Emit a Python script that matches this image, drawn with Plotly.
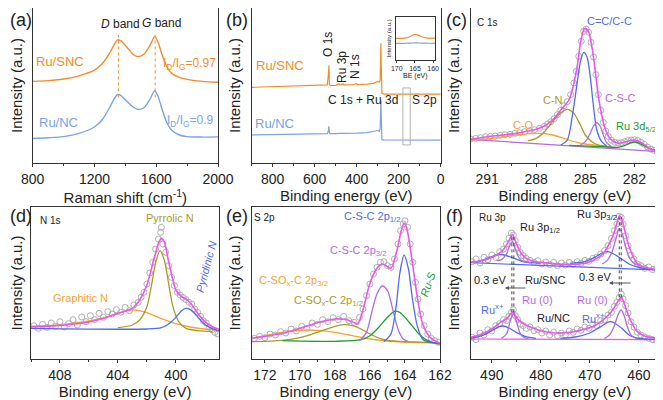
import plotly.graph_objects as go

# page body has an 8px margin: figure is sized/offset to compensate
OFF = 8
W, H = 663 - OFF, 400 - OFF
ORANGE = "#F28C28"
LBLUE = "#7BA3E6"
C_OR = "#F5A431"
C_BL = "#4F6BEA"
C_OL = "#A89B1F"
C_PU = "#B36AE2"
C_MG = "#EE55EE"
C_GR = "#1E9E2E"
C_GY = "#A6A6A6"
TXT = "#222222"
FONT = "Arial, Liberation Sans, sans-serif"

# ---------------- (a) Raman ----------------
a_x = [800, 900, 1000, 1100, 1200, 1250, 1300, 1330, 1350, 1370, 1400, 1450, 1480, 1520,
       1560, 1590, 1610, 1640, 1670, 1700, 1750, 1800, 1900, 2000]
a_snc = [51, 51.5, 52.5, 54.5, 58, 62, 69, 74.5, 77, 76.5, 73.5, 68, 66.5, 68,
         73.5, 79, 76, 67, 60, 56, 53.5, 52.3, 51, 50.5]
a_nc = [15.4, 15.8, 16.5, 18.5, 22.5, 27, 35, 40.5, 42.8, 42.3, 39.5, 35, 33.5, 34.5,
        40, 45.2, 42, 33, 25, 20.5, 17.5, 16.5, 16.2, 16.3]
a_dg_pos = [1355, 1593]

# ---------------- (b) XPS survey ----------------
b_x = [900, 850, 800, 750, 700, 650, 600, 560, 540, 535, 532, 530, 525, 500, 485, 480,
       465, 460, 420, 400, 397, 350, 320, 300, 292, 288, 285, 283, 280, 270, 200, 170,
       165, 160, 100, 50, 0]
b_snc = [47.3, 47.5, 47.6, 47.8, 47.9, 48.1, 48.3, 48.5, 48.8, 55, 61, 49, 48.4, 48.5, 49.5, 48.8,
         49.4, 48.8, 48.9, 49.6, 49, 49.3, 49.8, 51, 50.5, 52, 74.8, 60, 43.5, 43, 43.1, 43.1,
         43.3, 43.1, 43, 43, 43]
b_nc = [17.5, 17.55, 17.6, 17.7, 17.8, 17.9, 18, 18.2, 18.3, 20, 23, 18.5, 18.3, 18.3, 18.6, 18.5,
        18.5, 18.5, 18.6, 18.7, 18.7, 19, 19.6, 20.3, 19.8, 22, 39.4, 28, 14.6, 14.4, 14.4, 14.4,
        14.4, 14.4, 14.3, 14.3, 14.3]
b_box_x = [180, 145]
b_box_y = [11.3, 46.9]
ins_x = [170.3, 168, 167, 166, 165, 164, 163, 162, 160, 159.5]
ins_snc = [50, 50.5, 52, 56, 59, 57, 53, 51, 50.5, 50.5]
ins_nc = [38.5, 38.6, 38.8, 39.2, 39.5, 39.3, 39, 38.8, 38.6, 38.5]

# ---------------- (c) C 1s ----------------
c_env_x = [292, 291, 290, 289, 288, 287.5, 287, 286.5, 286, 285.7, 285.5, 285.3, 285.1, 285,
           284.8, 284.6, 284.4, 284.2, 284, 283.8, 283.5, 283, 282.5, 282, 281.5, 281, 280.5]
c_env_y = [71, 79, 84, 91, 101, 111, 129, 159, 189, 239, 289, 359, 399, 404,
           394, 349, 279, 199, 144, 104, 74, 59, 64, 69, 59, 41, 34]
c_cc_x = [286.5, 286.1, 285.8, 285.5, 285.3, 285.1, 284.9, 284.7, 284.5, 284.3, 284, 283.7]
c_cc_y = [54, 69, 139, 239, 304, 332, 319, 259, 169, 99, 64, 52]
c_cn_x = [288.5, 288, 287.5, 287, 286.5, 286.1, 285.7, 285.3, 285, 284.6, 284.2, 283.7]
c_cn_y = [67, 74, 94, 124, 151, 161, 149, 114, 84, 64, 54, 51]
c_co_x = [292, 291, 290, 289, 288, 287.5, 287, 286.5, 286, 285.5, 285, 284, 283.5]
c_co_y = [69, 72, 79, 85, 89, 88, 84, 77, 69, 62, 57, 52, 49]
c_csc_x = [285.3, 285, 284.7, 284.5, 284.3, 284.1, 283.9, 283.7, 283.4]
c_csc_y = [54, 64, 89, 111, 121, 111, 84, 61, 49]
c_ru_x = [286, 284, 283, 282.6, 282.3, 282, 281.7, 281.3, 281, 280.5]
c_ru_y = [53, 49, 47, 52, 59, 63, 59, 49, 42, 37]
c_bg_x = [292, 280.5]
c_bg_y = [71, 34]
c_pts_x = [292, 291.7, 291.4, 291.1, 290.8, 290.5, 290.2, 289.9, 289.6, 289.3, 289, 288.7, 288.4,
           288.1, 287.8, 287.5, 287.3, 287.1, 286.9, 286.7, 286.5, 286.3, 286.1, 285.9, 285.7,
           285.55, 285.4, 285.25, 285.1, 284.95, 284.8, 284.65, 284.5, 284.35, 284.2, 284.05,
           283.9, 283.75, 283.6, 283.4, 283.2, 283, 282.8, 282.6, 282.4, 282.2, 282, 281.8,
           281.6, 281.4, 281.2, 281, 280.8, 280.6]
c_pts_y = [72, 74, 76, 79, 80, 81, 83, 85, 86, 89, 91, 94, 97,
           100, 104, 110, 117, 124, 133, 145, 158, 172, 184, 205, 240,
           275, 320, 365, 395, 402, 392, 362, 318, 265, 205, 158,
           122, 96, 80, 68, 62, 60, 61, 64, 67, 69, 70, 68,
           62, 56, 48, 42, 38, 35]

# ---------------- (d) N 1s ----------------
d_env_x = [410, 408, 406, 405, 404, 403, 402.5, 402, 401.5, 401.2, 401, 400.8, 400.5, 400.2,
           400, 399.6, 399.2, 398.8, 398.4, 398, 397.5, 397]
d_env_y = [97, 101, 111, 122, 137, 152, 177, 222, 302, 347, 362, 352, 292, 237,
           207, 187, 177, 157, 132, 112, 97, 89]
d_pyr_x = [404, 403, 402.5, 402, 401.7, 401.4, 401.1, 400.8, 400.5, 400.2, 399.8, 399.3, 398.5, 397.5]
d_pyr_y = [94, 102, 117, 157, 217, 287, 325, 297, 227, 157, 112, 92, 85, 82]
d_gra_x = [410, 408, 406, 405, 404, 403.3, 402.8, 402, 401, 400, 399, 398, 397]
d_gra_y = [97, 102, 114, 123, 136, 146, 147, 139, 121, 106, 96, 90, 86]
d_pyd_x = [410, 402, 401, 400.5, 400, 399.6, 399.3, 399, 398.6, 398.2, 397.8, 397.3, 397]
d_pyd_y = [92, 90, 94, 105, 125, 145, 152, 148, 132, 112, 98, 88, 85]
d_pts_x = [409.8, 409.5, 409.2, 408.9, 408.6, 408.3, 408, 407.7, 407.4, 407.1, 406.8, 406.5,
           406.2, 405.9, 405.6, 405.3, 405, 404.7, 404.4, 404.1, 403.8, 403.5, 403.2, 402.9,
           402.6, 402.4, 402.2, 402, 401.8, 401.6, 401.4, 401.2, 401.05, 401.0, 400.9, 400.7,
           400.5, 400.3, 400.1, 399.9, 399.7, 399.5, 399.3, 399.1, 398.9, 398.7, 398.5, 398.3,
           398.1, 397.9, 397.7, 397.5, 397.3, 397.1]
d_pts_y = [100, 92, 104, 95, 108, 98, 112, 96, 106, 118, 102, 126,
           112, 130, 118, 137, 125, 142, 135, 148, 140, 155, 145, 162,
           170, 185, 200, 225, 258, 290, 330, 360, 380, 395, 345, 320,
           280, 245, 220, 200, 192, 185, 178, 170, 165, 150, 140, 128,
           115, 108, 95, 88, 80, 75]

# ---------------- (e) S 2p ----------------
e_env_x = [172.75, 171, 170, 169, 168, 167.5, 167, 166.7, 166.4, 166, 165.6, 165.3, 165,
           164.8, 164.5, 164.2, 164.05, 163.9, 163.6, 163.3, 163, 162.6, 162.2, 161.9]
e_env_y = [62, 77, 92, 109, 120, 119, 112, 105, 147, 227, 272, 285, 277,
           272, 317, 387, 407, 392, 297, 187, 107, 67, 52, 47]
e_b12_x = [165.2, 164.8, 164.5, 164.3, 164.05, 163.8, 163.6, 163.3, 163, 162.6, 162]
e_b12_y = [52, 75, 160, 255, 312, 270, 190, 100, 60, 50, 47]
e_p32_x = [166.6, 166.2, 165.9, 165.6, 165.3, 165, 164.7, 164.4, 164.1, 163.8]
e_p32_y = [55, 80, 140, 195, 219, 205, 150, 90, 60, 52]
e_rus_x = [171, 168, 166.5, 166, 165.5, 165, 164.6, 164.3, 164, 163.6, 163.2, 162.8, 162.4, 162]
e_rus_y = [55, 53, 58, 70, 95, 125, 143, 140, 125, 100, 75, 58, 49, 45]
e_so12_x = [172.75, 171, 170, 169, 168, 167.5, 167, 166.5, 166, 165.5, 165, 164, 162]
e_so12_y = [52, 56, 64, 80, 98, 103, 100, 90, 75, 63, 56, 52, 49]
e_so32_x = [172.75, 172, 171, 170, 169.5, 169, 168, 167, 166, 165, 164, 162]
e_so32_y = [62, 70, 80, 86, 87, 86, 80, 70, 60, 54, 51, 48]
e_pts_x = [172.6, 172.3, 172, 171.7, 171.4, 171.1, 170.8, 170.5, 170.2, 169.9, 169.6, 169.3,
           169, 168.7, 168.4, 168.1, 167.8, 167.5, 167.2, 166.9, 166.6, 166.4, 166.2, 166,
           165.8, 165.6, 165.4, 165.2, 165, 164.8, 164.6, 164.4, 164.25, 164.1, 164, 163.85,
           163.7, 163.55, 163.4, 163.25, 163.1, 162.9, 162.7, 162.5, 162.3, 162.1]
e_pts_y = [62, 68, 64, 75, 72, 82, 78, 90, 84, 98, 92, 108,
           104, 118, 112, 124, 118, 128, 115, 110, 125, 150, 190, 225,
           255, 275, 290, 292, 280, 275, 300, 345, 385, 405, 415, 395,
           345, 290, 230, 180, 135, 100, 75, 62, 55, 50]

# ---------------- (f) Ru 3p ----------------
f_u_env_x = [494.3, 492, 490, 488, 487, 486, 485.8, 485, 484, 483, 481, 478, 475, 472, 470,
             468, 467, 466, 465, 464.3, 463.9, 463.5, 463, 462, 461, 460, 458, 456]
f_u_env_y = [290, 295, 305, 322, 342, 369, 374, 347, 317, 302, 292, 287, 284, 285, 292,
             307, 322, 347, 382, 417, 429, 422, 392, 337, 302, 282, 272, 267]
f_u_p1_x = [489, 488, 487, 486.5, 485.8, 485.2, 484.5, 483.5, 482]
f_u_p1_y = [295, 298, 315, 335, 352, 330, 305, 292, 290]
f_u_p2_x = [467.5, 466.5, 465.5, 464.7, 464, 463.4, 462.6, 461.8, 461, 459.5]
f_u_p2_y = [285, 295, 320, 360, 392, 375, 330, 300, 287, 280]
f_u_b1_x = [494.3, 492, 490, 488.5, 487.5, 486, 484, 482, 480]
f_u_b1_y = [290, 296, 307, 313, 312, 305, 294, 289, 288]
f_u_b2_x = [474, 471, 469, 467.5, 466.5, 465.5, 464, 462, 460, 458, 456]
f_u_b2_y = [287, 292, 305, 318, 322, 318, 305, 285, 275, 270, 268]
f_u_bg_x = [494.3, 456]
f_u_bg_y = [289, 267]
f_l_env_x = [494.3, 492, 490, 488, 487, 486.2, 485.6, 485, 484, 482, 480, 477, 474, 471, 469,
             467.5, 466, 465, 464.2, 463.7, 463.2, 462.5, 461.5, 460.5, 459, 456]
f_l_env_y = [65, 75, 90, 112, 120, 135, 141, 125, 110, 95, 85, 78, 80, 90, 100,
             115, 135, 155, 175, 184, 175, 145, 110, 85, 70, 62]
f_l_p1_x = [488, 487, 486.3, 485.6, 485, 484.3, 483.5, 482.5]
f_l_p1_y = [62, 75, 110, 137, 115, 80, 65, 61]
f_l_p2_x = [467, 466, 465, 464.2, 463.6, 463, 462.3, 461.5, 460.5]
f_l_p2_y = [62, 72, 100, 135, 147, 130, 95, 70, 62]
f_l_b1_x = [494.3, 492, 490, 488.5, 487.7, 486.5, 485, 483, 481]
f_l_b1_y = [62, 70, 85, 97, 99, 93, 80, 67, 62]
f_l_b2_x = [476, 473, 470, 468, 466.5, 465.8, 465, 463.5, 462, 460.5, 459, 456]
f_l_b2_y = [62, 66, 78, 95, 109, 112, 108, 92, 72, 63, 60, 60]
f_l_bg_x = [494.3, 456]
f_l_bg_y = [60, 58]
f_pts_x = [494, 493.2, 492.4, 491.6, 490.8, 490, 489.2, 488.4, 487.6, 487, 486.5, 486, 485.6,
           485.2, 484.7, 484.2, 483.6, 483, 482.2, 481.4, 480.6, 479.8, 479, 478.2, 477.4,
           476.6, 475.8, 475, 474.2, 473.4, 472.6, 471.8, 471, 470.2, 469.4, 468.6, 467.8,
           467, 466.3, 465.6, 465, 464.5, 464, 463.6, 463.2, 462.7, 462.2, 461.6, 461, 460.3,
           459.6, 458.8, 458, 457.2, 456.4]
f_u_pts_y = [292, 300, 288, 305, 298, 312, 305, 322, 330, 345, 362, 378, 372,
             355, 335, 320, 310, 302, 296, 290, 295, 285, 291, 283, 290,
             280, 288, 282, 290, 284, 292, 287, 296, 293, 302, 305, 315,
             325, 340, 362, 385, 405, 428, 425, 405, 370, 340, 312, 300, 285,
             280, 272, 276, 268, 272]
f_l_pts_y = [65, 58, 78, 72, 88, 84, 100, 106, 118, 115, 128, 140, 148,
             130, 118, 105, 100, 92, 96, 85, 88, 78, 84, 72, 80,
             70, 78, 72, 84, 80, 90, 86, 96, 92, 104, 100, 115,
             118, 132, 140, 158, 170, 185, 195, 180, 160, 138, 112, 96, 80,
             72, 66, 62, 58, 55]
f_shift_lines = [485.9, 485.5, 464.0, 463.6]


def dom_x(l, r):
    return [(l - OFF) / W, (r - OFF) / W]


def dom_y(t, b):
    return [1 - (b - OFF) / H, 1 - (t - OFF) / H]


def P(x, y):
    return (x - OFF) / W, 1 - (y - OFF) / H


fig = go.Figure()


def line(ax, x, y, color, width=1.3, shape="spline", dash=None):
    fig.add_trace(go.Scatter(x=x, y=y, mode="lines", xaxis="x" + ax, yaxis="y" + ax,
                             line=dict(color=color, width=width, shape=shape, dash=dash,
                                       smoothing=0.8 if shape == "spline" else None),
                             showlegend=False, hoverinfo="skip"))


def pts(ax, x, y):
    fig.add_trace(go.Scatter(x=x, y=y, mode="markers", xaxis="x" + ax, yaxis="y" + ax,
                             marker=dict(symbol="circle-open", size=6, color=C_GY,
                                         line=dict(width=0.9, color=C_GY)),
                             showlegend=False, hoverinfo="skip"))


# (a)
line("", a_x, a_snc, ORANGE, 1.4)
line("", a_x, a_nc, LBLUE, 1.4)
for xv in a_dg_pos:
    line("", [xv, xv], [41, 80], ORANGE, 1, "linear", "dot")

# (b)
line("2", b_x, b_snc, ORANGE, 1.2, "linear")
line("2", b_x, b_nc, LBLUE, 1.2, "linear")
line("2", [b_box_x[0], b_box_x[1], b_box_x[1], b_box_x[0], b_box_x[0]],
     [b_box_y[0], b_box_y[0], b_box_y[1], b_box_y[1], b_box_y[0]], "#B0B0B0", 1, "linear")
line("7", ins_x, ins_snc, ORANGE, 1.2)
line("7", ins_x, ins_nc, LBLUE, 1.2)

# (c)
pts("3", c_pts_x, c_pts_y)
line("3", c_bg_x, c_bg_y, C_PU, 1.2, "linear")
line("3", c_co_x, c_co_y, C_OR)
line("3", c_cn_x, c_cn_y, C_OL)
line("3", c_cc_x, c_cc_y, C_BL)
line("3", c_csc_x, c_csc_y, C_PU)
line("3", c_ru_x, c_ru_y, C_GR)
line("3", c_env_x, c_env_y, C_MG, 1.6)

# (d)
pts("4", d_pts_x, d_pts_y)
line("4", d_gra_x, d_gra_y, C_OR)
line("4", d_pyr_x, d_pyr_y, C_OL)
line("4", d_pyd_x, d_pyd_y, C_BL)
line("4", d_env_x, d_env_y, C_MG, 1.6)

# (e)
pts("5", e_pts_x, e_pts_y)
line("5", e_so32_x, e_so32_y, C_OR)
line("5", e_so12_x, e_so12_y, C_OL)
line("5", e_rus_x, e_rus_y, C_GR)
line("5", e_p32_x, e_p32_y, C_PU)
line("5", e_b12_x, e_b12_y, C_BL)
line("5", e_env_x, e_env_y, C_MG, 1.6)

# (f)
pts("6", f_pts_x, f_u_pts_y)
pts("6", f_pts_x, f_l_pts_y)
line("6", f_u_bg_x, f_u_bg_y, C_BL, 1.1, "linear")
line("6", f_l_bg_x, f_l_bg_y, C_MG, 1.1, "linear")
for xs, ys, c in [(f_u_b1_x, f_u_b1_y, C_BL), (f_u_b2_x, f_u_b2_y, C_BL),
                  (f_u_p1_x, f_u_p1_y, C_PU), (f_u_p2_x, f_u_p2_y, C_PU),
                  (f_l_b1_x, f_l_b1_y, C_BL), (f_l_b2_x, f_l_b2_y, C_BL),
                  (f_l_p1_x, f_l_p1_y, C_PU), (f_l_p2_x, f_l_p2_y, C_PU)]:
    line("6", xs, ys, c)
line("6", f_u_env_x, f_u_env_y, C_MG, 1.6)
line("6", f_l_env_x, f_l_env_y, C_MG, 1.6)
for xv in f_shift_lines:
    top = 372 if xv > 475 else 425
    line("6", [xv, xv], [140 if xv > 475 else 185, top], "#333333", 0.9, "linear", "dot")

# ---------------- axes ----------------
axcommon = dict(showline=True, mirror=True, linecolor="#333333", linewidth=1,
                showgrid=False, zeroline=False, automargin=False,
                tickfont=dict(family=FONT, size=14, color=TXT))
ycommon = dict(showline=True, mirror=True, linecolor="#333333", linewidth=1,
               showgrid=False, zeroline=False, showticklabels=False, ticks="",
               automargin=False,
               title=dict(text="Intensity (a.u.)", standoff=6,
                          font=dict(family=FONT, size=15, color=TXT)))

top_t, top_b = 3, 163
bot_t, bot_b = 207, 359
top_t_eff = max(top_t, OFF)
panels = [
    ("", dom_x(32.7, 218), dom_y(top_t_eff, top_b), [800, 2000], 400, 200,
     "Raman shift (cm<sup>-1</sup>)", [0, 100 * (top_b - top_t_eff) / (top_b - top_t)]),
    ("2", dom_x(251.7, 440.7), dom_y(top_t_eff, top_b), [900, 0], 200, 100,
     "Binding energy (eV)", [0, 100 * (top_b - top_t_eff) / (top_b - top_t)]),
    ("3", dom_x(470.7, 659), dom_y(top_t_eff, top_b), [292, 280.5], 3, 1.5,
     "Binding energy (eV)", [0, 480 * (top_b - top_t_eff) / (top_b - top_t)]),
    ("4", dom_x(31, 219.3), dom_y(bot_t, bot_b), [410, 397], 4, 2,
     "Binding energy (eV)", [0, 456]),
    ("5", dom_x(251.7, 440), dom_y(bot_t, bot_b), [172.75, 162], 2, 1,
     "Binding energy (eV)", [0, 456]),
    ("6", dom_x(470.7, 659), dom_y(bot_t, bot_b), [494.3, 455.9], 10, 5,
     "Binding energy (eV)", [0, 456]),
]
layout = {}
for i, (k, dx, dy, xr, dt, mdt, xt, yr) in enumerate(panels):
    n = k if k else ""
    xa = dict(axcommon, domain=dx, range=xr, anchor="y" + n, dtick=dt,
              ticks="outside", ticklen=3, tickcolor="#333333",
              minor=dict(dtick=mdt, ticks="outside", ticklen=2, tickcolor="#333333"),
              title=dict(text=xt, standoff=2, font=dict(family=FONT, size=15, color=TXT)))
    if k in ("", "3"):
        xa["tick0"] = 800 if k == "" else 282
    ya = dict(ycommon, domain=dy, range=yr, anchor="x" + n)
    layout["xaxis" + n] = xa
    layout["yaxis" + n] = ya

# inset axes for (b)
layout["xaxis7"] = dict(domain=dom_x(395.7, 435), range=[170.3, 159.5], anchor="y7",
                        showline=True, mirror=True, linecolor="#333333", linewidth=1,
                        showgrid=False, zeroline=False, dtick=5, ticks="outside", ticklen=2,
                        automargin=False,
                        tickfont=dict(family=FONT, size=7, color=TXT),
                        title=dict(text="BE (eV)", standoff=0,
                                   font=dict(family=FONT, size=7, color=TXT)))
layout["yaxis7"] = dict(domain=dom_y(16.7, 60), range=[0, 100], anchor="x7",
                        showline=True, mirror=True, linecolor="#333333", linewidth=1,
                        showgrid=False, zeroline=False, showticklabels=False,
                        automargin=False,
                        title=dict(text="Intensity (a.u.)", standoff=2,
                                   font=dict(family=FONT, size=6, color=TXT)))

ann = []


def lab(text, x, y, color=TXT, size=12, angle=0, xanchor="center", italic=False):
    px, py = P(x, y)
    if italic:
        text = "<i>" + text + "</i>"
    ann.append(dict(text=text, x=px, y=py, xref="paper", yref="paper", showarrow=False,
                    xanchor=xanchor, yanchor="middle", textangle=angle,
                    font=dict(family=FONT, size=size, color=color)))


for t, x, y in [("(a)", 8, 20), ("(b)", 224, 20), ("(c)", 444, 20),
                ("(d)", 8, 216), ("(e)", 224, 216), ("(f)", 444, 216)]:
    lab(t, x, y, TXT, 18, xanchor="left")

# (a)
lab("<i>D</i> band", 120, 24, TXT, 12)
lab("<i>G</i> band", 161, 23, TXT, 12)
lab("Ru/SNC", 60, 62, ORANGE, 13)
lab("Ru/NC", 58, 122, LBLUE, 13)
lab("I<sub>D</sub>/I<sub>G</sub>=0.97", 218, 64, ORANGE, 12, xanchor="right")
lab("I<sub>D</sub>/I<sub>G</sub>=0.9", 216, 121, LBLUE, 12, xanchor="right")
# (b)
lab("O 1s", 328, 45, TXT, 12, -90)
lab("Ru 3p", 342, 67, TXT, 12, -90)
lab("N 1s", 355, 67, TXT, 12, -90)
lab("Ru/SNC", 280, 65, ORANGE, 13)
lab("Ru/NC", 274, 123, LBLUE, 13)
lab("C 1s + Ru 3d", 363, 100, TXT, 12)
lab("S 2p", 424, 100, TXT, 12)
# (c)
lab("C 1s", 487, 23, TXT, 10)
lab("C=C/C-C", 609, 21, C_BL, 11)
lab("C-N", 553, 100, C_OL, 11)
lab("C-S-C", 620, 98, C_PU, 11)
lab("C-O", 523, 125, C_OR, 11)
lab("Ru 3d<sub>5/2</sub>", 636, 127, C_GR, 11)
# (d)
lab("N 1s", 50, 220, TXT, 10)
lab("Pyrrolic N", 170, 218, C_OL, 11)
lab("Pyridinic N", 206, 267, C_BL, 11, -75, italic=True)
lab("Graphitic N", 80, 298, C_OR, 11)
# (e)
lab("S 2p", 264, 217, TXT, 10)
lab("C-S-C 2p<sub>1/2</sub>", 372, 217, C_BL, 11)
lab("C-S-C 2p<sub>3/2</sub>", 358, 251, C_PU, 11)
lab("C-SO<sub>x</sub>-C 2p<sub>3/2</sub>", 293, 281, C_OR, 11)
lab("C-SO<sub>x</sub>-C 2p<sub>1/2</sub>", 328, 301, C_OL, 11)
lab("Ru-S", 428, 284, C_GR, 11, -70, italic=True)
# (f)
lab("Ru 3p", 492, 217, TXT, 10)
lab("Ru 3p<sub>1/2</sub>", 540, 228, TXT, 11)
lab("Ru 3p<sub>3/2</sub>", 597, 215, TXT, 11)
lab("0.3 eV", 490, 280, TXT, 11)
lab("0.3 eV", 595, 277, TXT, 11)
lab("Ru/SNC", 545, 280, TXT, 11)
lab("Ru/NC", 553, 318, TXT, 11)
lab("Ru (0)", 537, 300, C_PU, 11)
lab("Ru (0)", 592, 300, C_PU, 11)
lab("Ru<sup>x+</sup>", 492, 309, C_BL, 11)
lab("Ru<sup>x+</sup>", 593, 318, C_BL, 11)

for hx, tx, y in [(505, 527, 288), (609, 632, 283)]:
    px, py = P(hx, y)
    ann.append(dict(x=px, y=py, xref="paper", yref="paper", text="", showarrow=True,
                    ax=tx - hx, ay=0, arrowhead=2, arrowsize=0.8, arrowwidth=1,
                    arrowcolor="#555555"))

fig.update_layout(width=W, height=H,
                  margin=dict(l=0, r=0, t=0, b=0, pad=0, autoexpand=False),
                  paper_bgcolor="white", plot_bgcolor="white", showlegend=False,
                  annotations=ann, **layout)
fig.write_html("out.html")
